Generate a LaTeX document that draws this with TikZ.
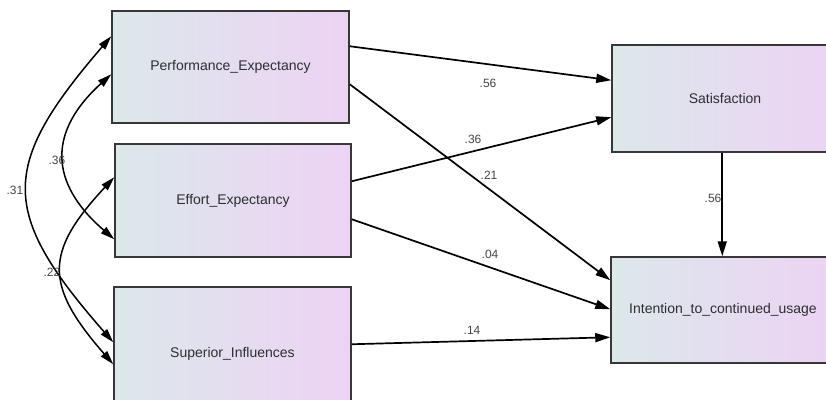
\documentclass[tikz,border=0pt]{standalone}
\usepackage{fontspec}
\setmainfont{Liberation Sans}
\usetikzlibrary{arrows.meta,calc}
\definecolor{boxL}{RGB}{220,232,234}
\definecolor{boxR}{RGB}{236,211,244}
\definecolor{edgecol}{RGB}{55,55,55}
\definecolor{txtcol}{RGB}{45,45,50}
\definecolor{labcol}{RGB}{70,70,70}
\tikzset{
  varbox/.style={draw=edgecol, line width=1.5pt, left color=boxL, right color=boxR,
    text=txtcol, font=\fontsize{14}{16}\selectfont, inner sep=0pt, anchor=center},
  path/.style={draw=black, line width=1.7pt, -{Triangle[length=15pt,width=9pt]}},
  corr/.style={draw=black, line width=1.5pt, {Triangle[length=14pt,width=8pt]}-{Triangle[length=14pt,width=8pt]}},
  coef/.style={text=labcol, font=\fontsize{12}{14}\selectfont, inner sep=0pt}
}
\begin{document}
\begin{tikzpicture}[x=1pt,y=-1pt]
\path[use as bounding box, clip] (0,0) rectangle (826,399);
\fill[white] (0,0) rectangle (826,399);

% boxes
\node[varbox, minimum width=237pt, minimum height=112pt] (pe) at (230.5,67) {Performance\_Expectancy};
\node[varbox, minimum width=236pt, minimum height=113pt] (ee) at (233,200.5) {Effort\_Expectancy};
\node[varbox, minimum width=237pt, minimum height=134pt] (si) at (232.5,354) {Superior\_Influences};
\node[varbox, minimum width=226pt, minimum height=107pt] (sat) at (725,98.5) {Satisfaction};
\node[varbox, minimum width=224pt, minimum height=106pt] (int) at (723,310) {Intention\_to\_continued\_usage};

% structural paths
\draw[path] ($(pe.north east)+(0,36)$) -- ($(sat.north west)+(0,36)$);
\draw[path] ($(ee.north east)+(0,38)$) -- ($(sat.north west)+(0,73)$);
\draw[path] ($(pe.north east)+(0,74)$) -- ($(int.north west)+(0,24)$);
\draw[path] ($(ee.north east)+(0,76)$) -- ($(int.north west)+(0,53)$);
\draw[path] ($(si.north east)+(0,58)$) -- ($(int.north west)+(0,81)$);
\draw[path] ($(sat.south west)+(111,0)$) -- ($(int.north west)+(112,0)$);

% correlations
\draw[corr] ($(pe.north west)+(0,26)$) .. controls +(-112,130) and +(-114,-130) .. ($(si.north west)+(0,56)$);
\draw[corr] ($(pe.north west)+(0,64)$) .. controls +(-63,57) and +(-66,-57) .. ($(ee.north west)+(0,96)$);
\draw[corr] ($(ee.north west)+(0,34)$) .. controls +(-70,75) and +(-69,-79) .. ($(si.north west)+(0,78)$);

% coefficients
\node[coef] (c1) at (488,83) {.56};
\node[coef] (c2) at (473,139) {.36};
\node[coef] (c3) at (489,175) {.21};
\node[coef] (c4) at (490,254) {.04};
\node[coef] (c5) at (472,330) {.14};
\node[coef] (c6) at (713,198) {.56};
\node[coef] (c7) at (57,160) {.36};
\node[coef] (c8) at (15,190) {.31};
\node[coef] (c9) at (52,272) {.22};
\end{tikzpicture}
\end{document}
